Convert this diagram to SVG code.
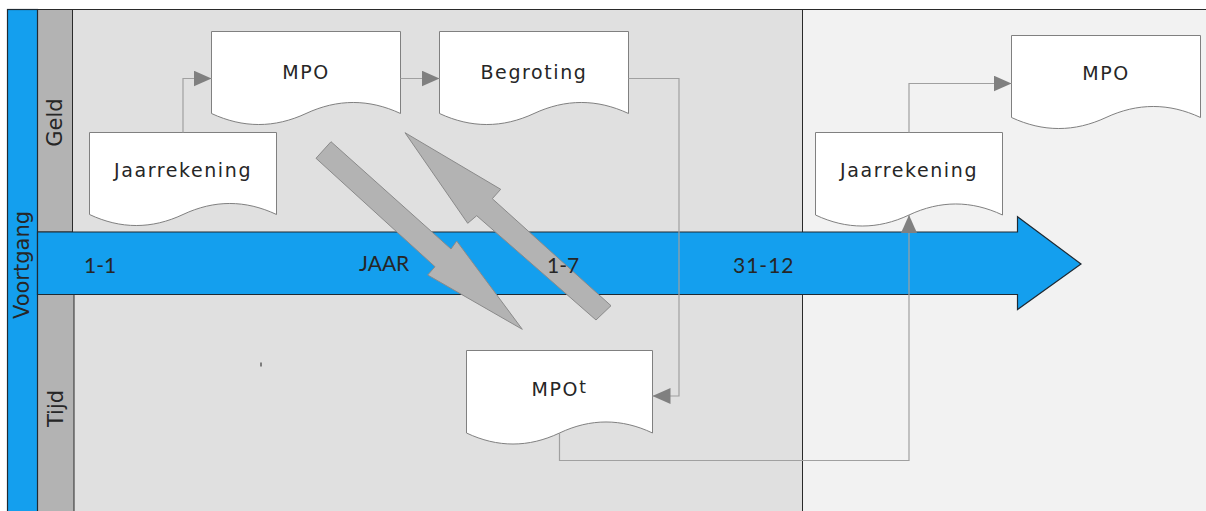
<svg xmlns="http://www.w3.org/2000/svg" width="1206" height="511" viewBox="0 0 1206 511">
  <defs>
    <style>
      .lane { stroke: #2a2a2a; stroke-width: 1; }
      .gray-col { fill: #b3b3b3; stroke: #2a2a2a; stroke-width: 1; }
      .blue { fill: #149fee; stroke: #1f2a33; stroke-width: 1.2; }
      .doc { fill: #ffffff; stroke: #808080; stroke-width: 1; }
      .doc-label { font-family: "DejaVu Sans", Verdana, sans-serif; font-size: 19px; letter-spacing: 1.6px; fill: #262626; text-anchor: middle; }
      .lane-label { font-family: "DejaVu Sans", Verdana, sans-serif; font-size: 21px; fill: #262626; text-anchor: middle; }
      .band-label { font-family: Lato, "Liberation Sans", sans-serif; font-size: 21px; fill: #262626; }
      .flow { fill: none; stroke: #a0a0a0; stroke-width: 1.2; marker-end: url(#head); }
      .big-arrow { fill: #b3b3b3; stroke: #8a8a8a; stroke-width: 1; }
    </style>
    <marker id="head" markerUnits="userSpaceOnUse" markerWidth="18" markerHeight="16" refX="18" refY="8" orient="auto">
      <path d="M0,0 L18,8 L0,16 Z" fill="#808080"/>
    </marker>
  </defs>

  <!-- background areas -->
  <rect x="0" y="0" width="1206" height="511" fill="#ffffff"/>
  <rect x="73" y="9.5" width="730" height="502" fill="#e0e0e0"/>
  <rect x="803" y="9.5" width="403" height="502" fill="#f2f2f2"/>
  <line class="lane" x1="7" y1="9.5" x2="1206" y2="9.5"/>
  <line class="lane" x1="802.5" y1="9.5" x2="802.5" y2="511"/>

  <!-- swimlane headers -->
  <g id="lane-geld">
    <rect class="gray-col" x="37.5" y="9.5" width="35" height="222.5"/>
    <text class="lane-label" transform="translate(62,122.5) rotate(-90)">Geld</text>
  </g>
  <g id="lane-tijd">
    <rect class="gray-col" x="37.5" y="294.5" width="36.5" height="220"/>
    <text class="lane-label" transform="translate(63,408.5) rotate(-90)">Tijd</text>
  </g>
  <g id="lane-voortgang">
    <rect class="blue" x="7.5" y="9.5" width="30" height="505"/>
    <text class="lane-label" transform="translate(29,265) rotate(-90)">Voortgang</text>
  </g>

  <!-- time axis -->
  <g id="timeline">
    <path class="blue" d="M37.5,232 H1017.5 V216.7 L1081,264 L1017.5,309.5 V294.5 H37.5 Z"/>
  </g>

  <!-- documents -->
  <g id="jaarrekening-1">
    <path class="doc" d="M89.5,132.5 H276.5 V214.5 C245.3,199.8 214.2,199.8 183,214.5 C151.8,229.2 120.7,229.2 89.5,214.5 Z"/>
    <text class="doc-label" x="183" y="177">Jaarrekening</text>
  </g>
  <g id="mpo-1">
    <path class="doc" d="M211.5,31.5 H400.5 V113.5 C369,98.8 337.5,98.8 306,113.5 C274.5,128.2 243,128.2 211.5,113.5 Z"/>
    <text class="doc-label" x="306" y="79">MPO</text>
  </g>
  <g id="begroting">
    <path class="doc" d="M439.5,31.5 H628.5 V113.5 C597,98.8 565.5,98.8 534,113.5 C502.5,128.2 471,128.2 439.5,113.5 Z"/>
    <text class="doc-label" x="534" y="79">Begroting</text>
  </g>
  <g id="mpot">
    <path class="doc" d="M466.5,350.5 H652.5 V433 C621.5,418.3 590.5,418.3 559.5,433 C528.5,447.7 497.5,447.7 466.5,433 Z"/>
    <text class="doc-label" x="559.5" y="396">MPO<tspan dy="-3" font-size="17">t</tspan></text>
  </g>
  <g id="jaarrekening-2">
    <path class="doc" d="M815.5,132.5 H1002.5 V215 C971.3,200.3 940.2,200.3 909,215 C877.8,229.7 846.7,229.7 815.5,215 Z"/>
    <text class="doc-label" x="909" y="177">Jaarrekening</text>
  </g>
  <g id="mpo-2">
    <path class="doc" d="M1011.5,35.5 H1200.5 V117.5 C1169,102.8 1137.5,102.8 1106,117.5 C1074.5,132.2 1043,132.2 1011.5,117.5 Z"/>
    <text class="doc-label" x="1106" y="80">MPO</text>
  </g>

  <!-- broad block arrows -->
  <g id="block-arrows">
    <polygon class="big-arrow" points="316,158.3 331,141.7 451,249 456.7,241 522.3,329.3 427.7,275 435,266.7"/>
    <polygon class="big-arrow" points="405,132.7 500.7,189.3 492.3,198.7 611,305.7 596,320 476.7,215.7 467.7,223.3"/>
  </g>

  <!-- connectors -->
  <g id="connectors">
    <path class="flow" d="M183,132.5 V78.5 H211.5"/>
    <path class="flow" d="M400.5,78.5 H439.5"/>
    <path class="flow" d="M628.5,78.5 H679 V396 H652.5"/>
    <path class="flow" d="M559.5,433 V460.5 H909 V215"/>
    <path class="flow" d="M909,132.5 V83.5 H1011.5"/>
  </g>

  <!-- axis labels -->
  <g id="axis-labels">
    <text class="band-label" x="84" y="273">1-1</text>
    <text class="band-label" x="359" y="271">JAAR</text>
    <text class="band-label" x="547" y="273">1-7</text>
    <text class="band-label" x="733" y="273" letter-spacing="1">31-12</text>
  </g>

  <!-- small tick mark -->
  <rect x="260.5" y="362.5" width="1" height="4" fill="#1a1a1a"/>
</svg>
